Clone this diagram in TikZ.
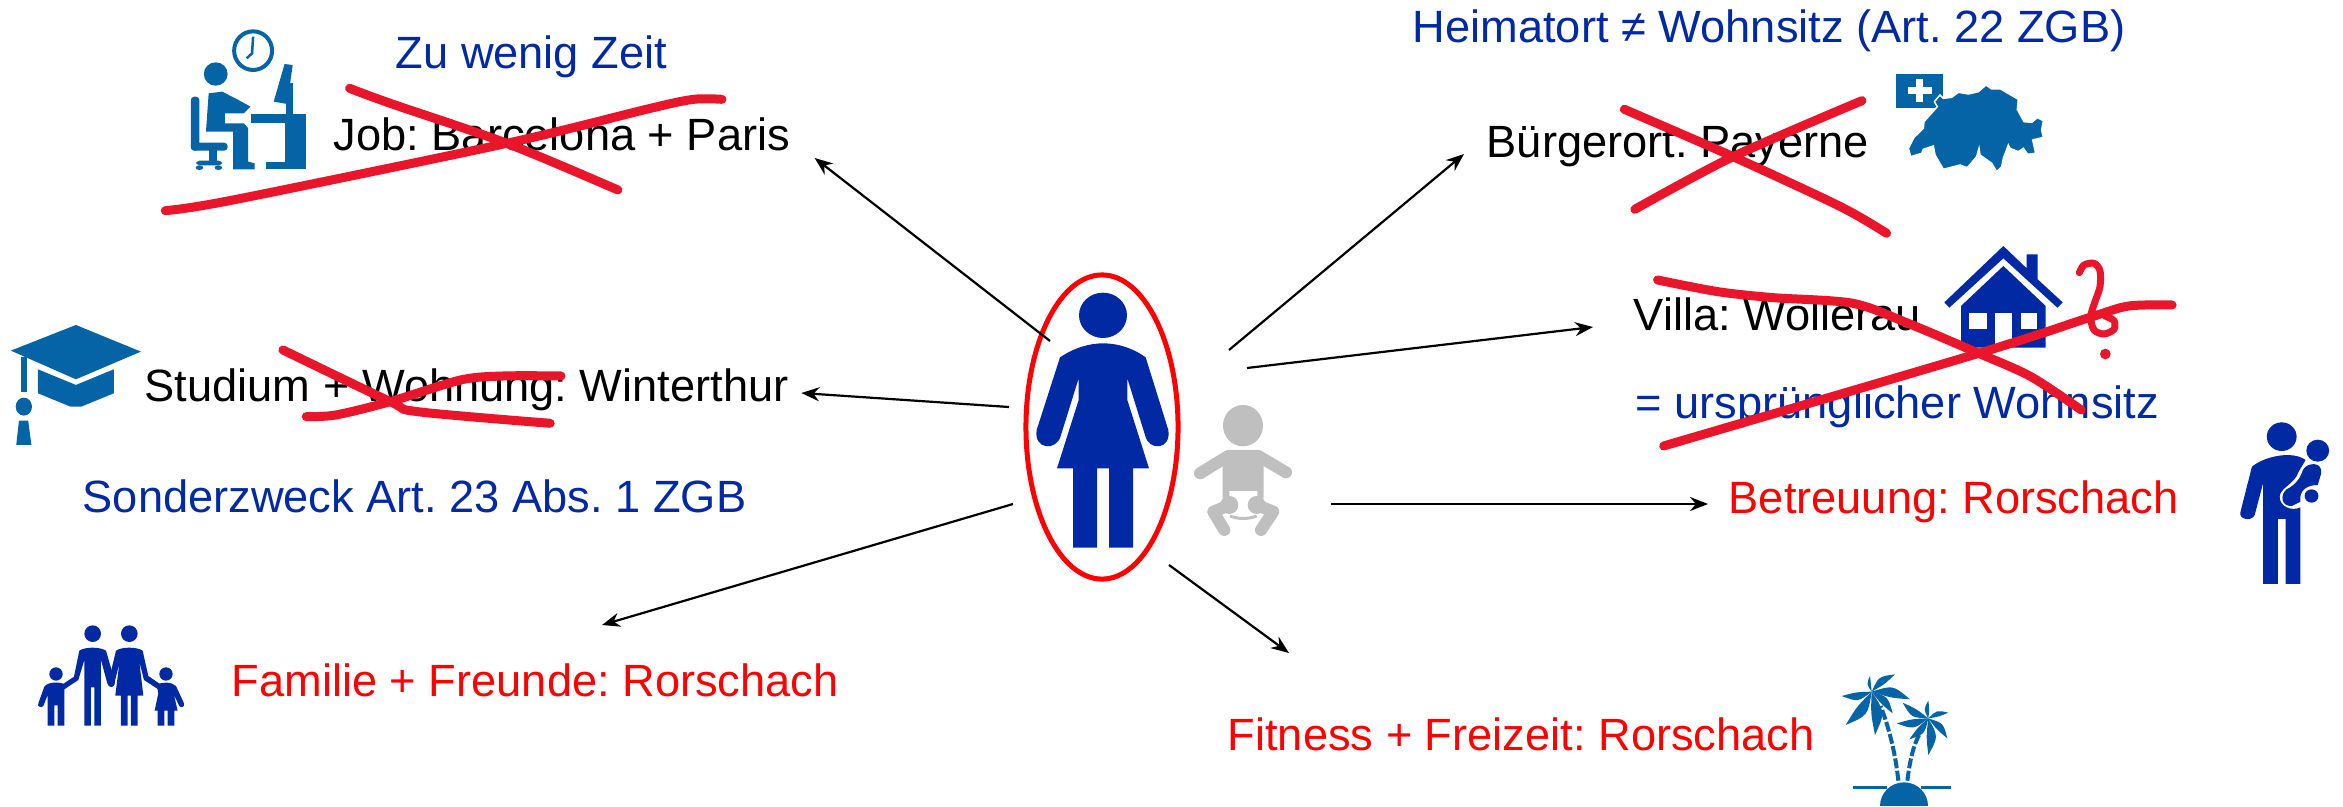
\documentclass[tikz,border=0pt]{standalone}
\usepackage{fontspec}
\setmainfont{Liberation Sans}
\usetikzlibrary{shapes.geometric, arrows.meta, calc}
\definecolor{deepblue}{RGB}{0,41,163}
\definecolor{iconblue}{RGB}{5,100,165}
\definecolor{strikered}{RGB}{232,21,43}
\definecolor{babygrey}{RGB}{191,191,191}
\tikzstyle{arrow}     = [line width=0.022cm,-{Stealth[length=0.18cm,width=0.14cm]}]
\tikzstyle{item}      = [anchor=base west, inner sep=0pt, font=\fontsize{12.86}{15}\selectfont\frenchspacing]
\tikzstyle{blackitem} = [item, text=black]
\tikzstyle{blueitem}  = [item, text=deepblue]
\tikzstyle{reditem}   = [item, text=red]
\tikzstyle{strike}    = [strikered, line width=0.09cm, line cap=round, line join=round]
\tikzstyle{limb}      = [babygrey, line width=0.12cm, line cap=round, line join=round]

\begin{document}
\begin{tikzpicture}[x=0.01cm,y=-0.01cm]
\useasboundingbox (0,0) rectangle (2343,806);

\node[blueitem]  (zeit)     at (395,68)   {Zu wenig Zeit};
\node[blackitem] (job)      at (333,150)  {Job: Barcelona + Paris};
\node[blackitem] (studium)  at (144,401)  {Studium + Wohnung: Winterthur};
\node[blueitem]  (sonder)   at (82,512)   {Sonderzweck Art. 23 Abs. 1 ZGB};
\node[reditem]   (familie)  at (231,696)  {Familie + Freunde: Rorschach};
\node[reditem]   (fitness)  at (1227,750) {Fitness + Freizeit: Rorschach};
\node[reditem]   (betreuung) at (1728,513) {Betreuung: Rorschach};
\node[blueitem]  (heimat)   at (1412,42)  {Heimatort ≠ Wohnsitz (Art. 22 ZGB)};
\node[blackitem] (buerger)  at (1486,157) {Bürgerort: Payerne};
\node[blackitem] (villa)    at (1633,330) {Villa: Wollerau};
\node[blueitem]  (urspr)    at (1635,418) {= ursprünglicher Wohnsitz};

\node[draw=red, line width=0.05cm, ellipse, inner sep=0pt, minimum width=1.52cm, minimum height=3.04cm] (ring) at (1102,427) {};

% woman and baby
\begin{scope}[shift={(980,250)},scale=0.3333]
\fill[deepblue] (369,196) ellipse [x radius=72, y radius=68];
\fill[deepblue] (240,322) .. controls (285,292) and (330,280) .. (369,280) .. controls (410,280) and (455,292) .. (497,322)
  -- (565,540) .. controls (575,600) and (505,605) .. (495,555) -- (442,385) -- (442,450) -- (507,655) -- (459,655) -- (459,893)
  -- (387,893) -- (387,655) -- (351,655) -- (351,893) -- (279,893) -- (279,655) -- (231,655) -- (296,450) -- (296,385)
  -- (243,555) .. controls (232,605) and (160,600) .. (170,540) -- cycle;
\fill[babygrey] (789,527) ellipse [x radius=60, y radius=62];
\fill[babygrey] (745,600) -- (835,600) -- (851,615) -- (851,745) -- (832,745) -- (832,723) -- (748,723) -- (748,745) -- (728,745) -- (728,615) -- cycle;
\draw[limb] (745,618) -- (660,670);
\draw[limb] (835,618) -- (918,667);
\draw[limb] (750,765) -- (700,785) -- (733,840);
\draw[limb] (830,765) -- (880,785) -- (843,840);
\fill[babygrey] (748,765) circle (27);
\fill[babygrey] (830,765) circle (27);
\draw[babygrey, line width=0.03cm] (750,798) .. controls (775,808) and (805,808) .. (830,798);
\end{scope}

% desk and cap
\begin{scope}[shift={(0,0)},xscale=0.542,yscale=0.3333]
\draw[iconblue, line width=0.04cm] (467,152) ellipse [x radius=35, y radius=58];
\draw[iconblue, line width=0.025cm] (467,110) -- (465,160) -- (455,175);
\fill[iconblue] (398,222) ellipse [x radius=22, y radius=35];
\fill[iconblue] (385,280) -- (410,275) -- (440,300) -- (462,320) -- (450,340) -- (415,340) -- (415,370) -- (450,370) -- (458,385) -- (458,485) -- (470,490) -- (470,508) -- (430,508) -- (430,395) -- (380,395) -- cycle;
\fill[iconblue, rounded corners=1pt] (352,290) rectangle (368,452);
\fill[iconblue, rounded corners=1pt] (352,428) rectangle (420,452);
\fill[iconblue] (385,450) rectangle (400,482);
\fill[iconblue, rounded corners=1pt] (362,482) rectangle (410,496);
\fill[iconblue] (368,503) circle (7);
\fill[iconblue] (403,503) circle (7);
\fill[iconblue] (463,343) rectangle (565,368);
\fill[iconblue] (525,343) rectangle (565,508);
\fill[iconblue] (490,485) rectangle (565,508);
\fill[iconblue] (525,192) -- (540,195) -- (530,312) -- (505,305) -- cycle;
\fill[iconblue] (528,250) rectangle (540,345);
\fill[iconblue] (140,975) -- (260,1055) -- (140,1138) -- (20,1052) -- cycle;
\fill[iconblue] (70,1108) -- (140,1155) -- (210,1108) -- (210,1180) -- (150,1220) -- (130,1220) -- (70,1180) -- cycle;
\fill[iconblue] (38,1070) rectangle (50,1175);
\fill[iconblue] (44,1220) ellipse [x radius=15, y radius=27];
\fill[iconblue] (35,1262) -- (52,1262) -- (58,1335) -- (30,1335) -- cycle;
\end{scope}

% family
\begin{scope}[shift={(0,580)},scale=0.3333]
\fill[deepblue] (278,161) circle (25);
\fill[deepblue] (238,212) .. controls (255,200) and (300,200) .. (318,212) -- (345,305) .. controls (345,325) and (325,325) .. (322,310) -- (303,240) -- (303,437) -- (283,437) -- (283,322) -- (273,322) -- (273,437) -- (253,437) -- (253,240) -- (235,300) -- (190,330) -- (185,315) -- (222,290) -- cycle;
\fill[deepblue] (388,161) circle (25);
\fill[deepblue] (348,212) .. controls (365,200) and (410,200) .. (428,212) -- (445,288) -- (480,312) -- (475,328) -- (432,300) -- (418,245) -- (430,347) -- (413,347) -- (413,437) -- (393,437) -- (393,347) -- (383,347) -- (383,437) -- (363,437) -- (363,347) -- (346,347) -- (358,250) -- (342,315) .. controls (338,325) and (325,322) .. (325,308) -- cycle;
\fill[deepblue] (168,282) circle (20);
\fill[deepblue] (133,320) .. controls (145,305) and (175,305) .. (193,312) -- (193,437) -- (173,437) -- (173,376) -- (163,376) -- (163,437) -- (143,437) -- (143,345) -- (130,378) .. controls (125,385) and (110,380) .. (115,370) -- cycle;
\fill[deepblue] (498,282) circle (20);
\fill[deepblue] (470,315) .. controls (485,305) and (515,305) .. (528,318) -- (552,370) .. controls (555,382) and (542,385) .. (538,378) -- (522,345) -- (533,392) -- (523,392) -- (523,437) -- (503,437) -- (503,392) -- (493,392) -- (493,437) -- (473,437) -- (473,392) -- (464,392) -- (475,340) -- cycle;
\end{scope}

% map
\begin{scope}[shift={(1880,60)},scale=0.3333]
\fill[iconblue] (49,42) rectangle (190,145);
\fill[white] (108,57) rectangle (130,127);
\fill[white] (85,80) rectangle (155,103);
\filldraw[iconblue, draw=white, line width=0.015cm] (163,125) -- (180,105) -- (190,115) -- (215,112) -- (235,97) -- (265,102) -- (295,95) -- (318,75) -- (335,87) -- (362,87) -- (415,118) -- (412,148) -- (432,185) -- (455,187) -- (472,173) -- (490,182) -- (485,210) -- (490,232) -- (458,240) -- (467,280) -- (443,283) -- (430,265) -- (415,275) -- (390,265) -- (385,255) -- (370,295) -- (365,320) -- (350,335) -- (335,310) -- (300,285) -- (297,265) -- (290,290) -- (262,323) -- (240,315) -- (190,328) -- (165,285) -- (160,258) -- (130,268) -- (125,280) -- (92,290) -- (85,265) -- (102,232) -- (130,205) -- (132,185) -- (172,140) -- cycle;
\end{scope}

% house
\begin{scope}[shift={(1930,240)},scale=0.3333]
\fill[deepblue] (220,18) -- (290,85) -- (290,43) -- (323,43) -- (323,118) -- (398,187) -- (382,203) -- (220,55) -- (58,203) -- (43,187) -- cycle;
\fill[deepblue] (220,78) -- (347,198) -- (347,323) -- (93,323) -- (93,198) -- cycle;
\fill[white] (118,218) rectangle (170,268);
\fill[white] (272,218) rectangle (322,268);
\fill[white] (195,218) rectangle (245,323);
\end{scope}

% carer
\begin{scope}[shift={(1800,400)},xscale=0.3463,yscale=0.3333]
\fill[deepblue] (1391,110) ellipse [x radius=43, y radius=43];
\fill[deepblue] (1495,152) ellipse [x radius=33, y radius=33];
\fill[deepblue] (1305,200) .. controls (1340,170) and (1420,150) .. (1460,180) -- (1440,215) .. controls (1430,250) and (1385,265) .. (1385,290) .. controls (1385,320) and (1420,335) .. (1445,322) -- (1445,552) -- (1402,552) -- (1402,357) -- (1380,357) -- (1380,552) -- (1337,552) -- (1337,250) -- (1313,345) .. controls (1305,365) and (1265,360) .. (1272,335) -- cycle;
\fill[deepblue] (1452,210) .. controls (1465,185) and (1510,185) .. (1505,220) -- (1495,255) .. controls (1465,255) and (1440,270) .. (1445,305) -- (1420,318) .. controls (1390,320) and (1385,285) .. (1405,268) .. controls (1430,255) and (1445,235) .. (1452,210) -- cycle;
\fill[deepblue] (1477,288) ellipse [x radius=20, y radius=20];
\end{scope}

% palms
\begin{scope}[shift={(1830,660)},scale=0.3333]
\foreach \tipx/\tipy in {35/108,47/195,135/225,188/160,240/118,195/43,120/47}
  \fill[iconblue] (125,95) .. controls ($(125,95)!.5!(\tipx,\tipy)!.55!90:(\tipx,\tipy)$) .. (\tipx,\tipy) .. controls ($(125,95)!.5!(\tipx,\tipy)!.12!-90:(\tipx,\tipy)$) .. (125,95);
\foreach \tipx/\tipy in {200/190,238/238,295/285,352/235,355/158,295/122,218/128}
  \fill[iconblue] (295,175) .. controls ($(295,175)!.5!(\tipx,\tipy)!.55!90:(\tipx,\tipy)$) .. (\tipx,\tipy) .. controls ($(295,175)!.5!(\tipx,\tipy)!.12!-90:(\tipx,\tipy)$) .. (295,175);
\draw[iconblue, line width=0.04cm, dash pattern=on 0.1cm off 0.025cm] (205,362) .. controls (195,270) and (175,200) .. (152,138);
\draw[iconblue, line width=0.04cm, dash pattern=on 0.1cm off 0.025cm] (232,362) .. controls (240,300) and (250,250) .. (277,208);
\draw[iconblue, line width=0.03cm] (70,382) -- (170,382);
\draw[iconblue, line width=0.03cm] (272,382) -- (363,382);
\fill[iconblue] (150,438) arc (180:360:72 and 71) -- cycle;
\end{scope}

\coordinate (fromjob)   at (1050,341);
\coordinate (fromstud)  at (1009,407);
\coordinate (fromfam)   at (1013,504);
\coordinate (fromfit)   at (1169,565);
\coordinate (frombet)   at (1331,504);
\coordinate (fromvilla) at (1247,368);
\coordinate (frombuerg) at (1229,350);

\draw[arrow] (fromjob)   -- ([shift={(24,8)}]job.base east);
\draw[arrow] (fromstud)  -- ([shift={(12,-8)}]studium.base east);
\draw[arrow] (fromfam)   -- ([shift={(371,-71)}]familie.base west);
\draw[arrow] (fromfit)   -- ([shift={(62,-97)}]fitness.base west);
\draw[arrow] (frombet)   -- ([shift={(-20,-9)}]betreuung.base west);
\draw[arrow] (fromvilla) -- ([shift={(-40,-3)}]villa.base west);
\draw[arrow] (frombuerg) -- ([shift={(-22,-3)}]buerger.base west);

% crossings left
\begin{scope}[shift={(0,0)},xscale=0.542,yscale=0.3333]
\draw[strike] plot[smooth] coordinates {(645,265) (720,310) (935,430) (1140,570)};
\draw[strike] plot[smooth] coordinates {(305,632) (430,600) (935,430) (1200,325) (1280,298) (1332,298)};
\draw[strike] plot[smooth] coordinates {(522,1050) (720,1205) (770,1235) (1015,1270)};
\draw[strike] plot[smooth] coordinates {(565,1250) (620,1245) (720,1205) (850,1140) (930,1128) (1035,1128)};
\end{scope}

% crossings right
\begin{scope}[shift={(1380,0)},xscale=0.614,yscale=0.3333]
\draw[strike] plot[smooth] coordinates {(398,328) (575,470) (750,620) (825,700)};
\draw[strike] plot[smooth] coordinates {(415,628) (575,470) (785,302)};
\draw[strike] plot[smooth] coordinates {(452,840) (550,875) (640,893) (770,910) (860,970) (975,1060) (1060,1130) (1142,1230)};
\draw[strike] plot[smooth] coordinates {(462,1338) (975,1060) (1160,950) (1220,918) (1290,915)};
\end{scope}

% question mark
\begin{scope}[shift={(1930,240)},scale=0.3333]
\draw[strike, line width=0.07cm] plot[smooth] coordinates {(448,98) (462,75) (492,70) (510,92) (510,140) (495,185) (482,230) (492,270) (522,282) (552,268) (552,242) (525,228)};
\fill[strikered] (526,342) circle (16);
\end{scope}

\end{tikzpicture}
\end{document}
